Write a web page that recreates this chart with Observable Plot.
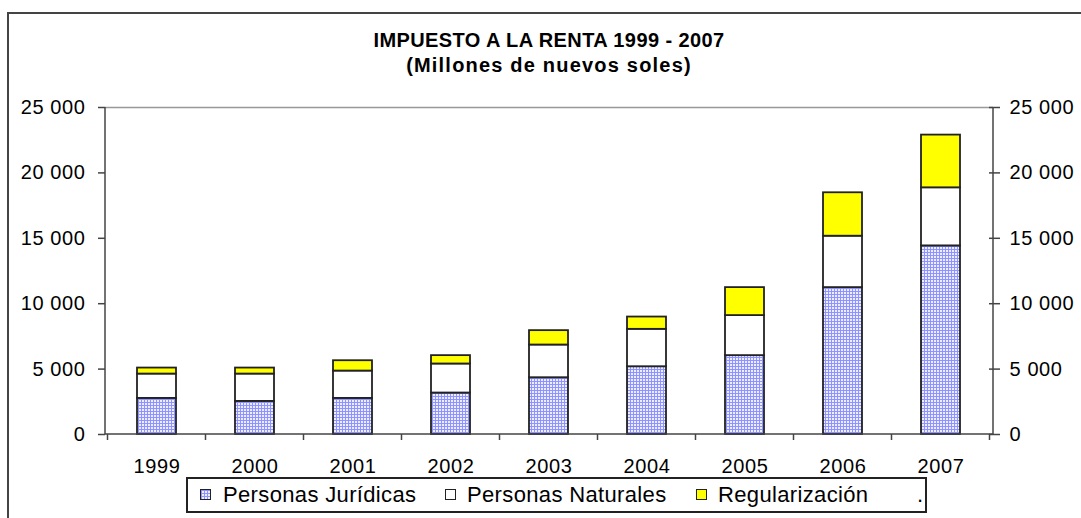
<!DOCTYPE html>
<html><head><meta charset="utf-8">
<script src="https://cdn.jsdelivr.net/npm/d3@7"></script>
<script src="https://cdn.jsdelivr.net/npm/@observablehq/plot@0.6"></script>
<style>
body{margin:0;background:#fff;font-family:Arial,"Liberation Sans",sans-serif;color:#000;}
#wrap{position:relative;width:1081px;height:518px;overflow:hidden;background:#fff;}
#frame{position:absolute;left:7px;top:12px;width:1110px;height:530px;border:2px solid #444;box-sizing:border-box;}
#chart{position:absolute;left:0;top:0;}
#chart svg text{letter-spacing:0.6px;}
.ttl{position:absolute;left:0;width:1098px;text-align:center;font-weight:bold;font-size:20px;line-height:20px;white-space:nowrap;}
#title{top:30px;letter-spacing:0.4px;}
#subtitle{top:55px;letter-spacing:1.2px;}
#legend{position:absolute;left:186px;top:477px;width:741px;height:36px;border:2px solid #222;box-sizing:border-box;background:#fff;}
.sw{position:absolute;top:10px;width:11px;height:11px;border:1px solid #222;box-sizing:border-box;}
.lt{position:absolute;top:0;height:32px;line-height:32px;font-size:22px;letter-spacing:0.35px;white-space:nowrap;}
</style>
</head><body>
<svg width="0" height="0" style="position:absolute">
  <defs>
    <pattern id="pj" width="3" height="3" patternUnits="userSpaceOnUse">
      <rect width="3" height="3" fill="#eceeff"/>
      <rect width="3" height="1" fill="#8f93ff"/>
      <rect width="1" height="3" fill="#8f93ff"/>
    </pattern>
  </defs>
</svg>
<div id="wrap">
  <div id="frame"></div>
  <div id="chart"></div>
  <div id="title" class="ttl"></div>
  <div id="subtitle" class="ttl"></div>
  <div id="legend"></div>
</div>
<script>
const titleText = "IMPUESTO A LA RENTA 1999 - 2007";
const subtitleText = "(Millones de nuevos soles)";
const years = ["1999","2000","2001","2002","2003","2004","2005","2006","2007"];
const series = ["Personas Jurídicas","Personas Naturales","Regularización"];
const juridicas =      [2760, 2530, 2760, 3170, 4340, 5180, 6030, 11230, 14420];
const naturales =      [1860, 2090, 2090, 2220, 2500, 2860, 3060, 3930, 4440];
const regularizacion = [ 460,  460,  790,  640, 1100,  940, 2140, 3320, 4030];
const yTicks = [0, 5000, 10000, 15000, 20000, 25000];
const fills = ["url(#pj)", "#ffffff", "#ffff00"];

document.getElementById("title").textContent = titleText;
document.getElementById("subtitle").textContent = subtitleText;

const values = [juridicas, naturales, regularizacion];
const data = years.flatMap((yr, i) => series.map((s, k) => ({year: yr, serie: s, value: values[k][i]})));

const fmt = d3.formatLocale({thousands: " ", grouping: [3], decimal: ","}).format(",");

function axisLines(index, scales, vals, dims) {
  const x = scales.x;
  const g = d3.create("svg:g");
  const L = dims.marginLeft, R = dims.width - dims.marginRight;
  const T = dims.marginTop, B = dims.height - dims.marginBottom;
  const bw = x.bandwidth(), step = x.step();
  const bounds = years.map(yr => x(yr) - (step - bw) / 2);
  bounds.push(x(years[years.length - 1]) + bw + (step - bw) / 2);
  g.append("line").attr("x1", L).attr("x2", R).attr("y1", T + 0.5).attr("y2", T + 0.5).attr("stroke", "#999").attr("stroke-width", 1.5);
  g.append("line").attr("x1", L).attr("x2", L).attr("y1", T).attr("y2", B).attr("stroke", "#444").attr("stroke-width", 1.5);
  g.append("line").attr("x1", R).attr("x2", R).attr("y1", T).attr("y2", B).attr("stroke", "#444").attr("stroke-width", 1.5);
  g.append("line").attr("x1", L).attr("x2", R).attr("y1", B).attr("y2", B).attr("stroke", "#444").attr("stroke-width", 1.5);
  for (const bx of bounds) {
    g.append("line").attr("x1", bx).attr("x2", bx).attr("y1", B).attr("y2", B + 6).attr("stroke", "#444").attr("stroke-width", 1.5);
  }
  return g.node();
}

const chart = Plot.plot({
  width: 1081,
  height: 518,
  marginTop: 107,
  marginBottom: 84,
  marginLeft: 105,
  marginRight: 88,
  style: {fontFamily: "Arial, 'Liberation Sans', sans-serif", fontSize: "20px", color: "#000", background: "transparent", overflow: "visible"},
  x: {domain: years, paddingInner: 0.6, paddingOuter: 0.3, axis: null},
  y: {domain: [0, 25000], axis: null},
  color: {domain: series, range: fills},
  marks: [
    Plot.barY(data, {x: "year", y: "value", fill: "serie", stroke: "#222", strokeWidth: 1.8}),
    axisLines,
    Plot.axisY({anchor: "left", ticks: yTicks, tickFormat: fmt, tickSize: 7, tickPadding: 13, fontSize: 20, stroke: "#444", strokeWidth: 1.5, label: null}),
    Plot.axisY({anchor: "right", ticks: yTicks, tickFormat: fmt, tickSize: 6, tickPadding: 10, fontSize: 20, stroke: "#444", strokeWidth: 1.5, label: null}),
    Plot.axisY({anchor: "right", ticks: yTicks, tickFormat: () => "", tickSize: -5, tickPadding: 0, stroke: "#444", strokeWidth: 1.5, label: null}),
    Plot.axisX({anchor: "bottom", tickSize: 0, tickPadding: 24, fontSize: 20, label: null})
  ]
});
document.getElementById("chart").appendChild(chart);

// legend
const legend = document.getElementById("legend");
const swLeft = [12, 257, 508];
const txLeft = [35, 279, 530];
series.forEach((s, k) => {
  const sw = document.createElement("div");
  sw.className = "sw";
  sw.style.left = swLeft[k] + "px";
  if (k === 0) {
    sw.innerHTML = '<svg width="9" height="9" style="display:block"><rect width="9" height="9" fill="url(#pj)"/></svg>';
  } else {
    sw.style.background = fills[k];
  }
  legend.appendChild(sw);
  const tx = document.createElement("div");
  tx.className = "lt";
  tx.style.left = txLeft[k] + "px";
  tx.textContent = s;
  legend.appendChild(tx);
});
const dot = document.createElement("div");
dot.className = "lt";
dot.style.left = "729px";
dot.textContent = ".";
legend.appendChild(dot);
</script>
</body></html>
